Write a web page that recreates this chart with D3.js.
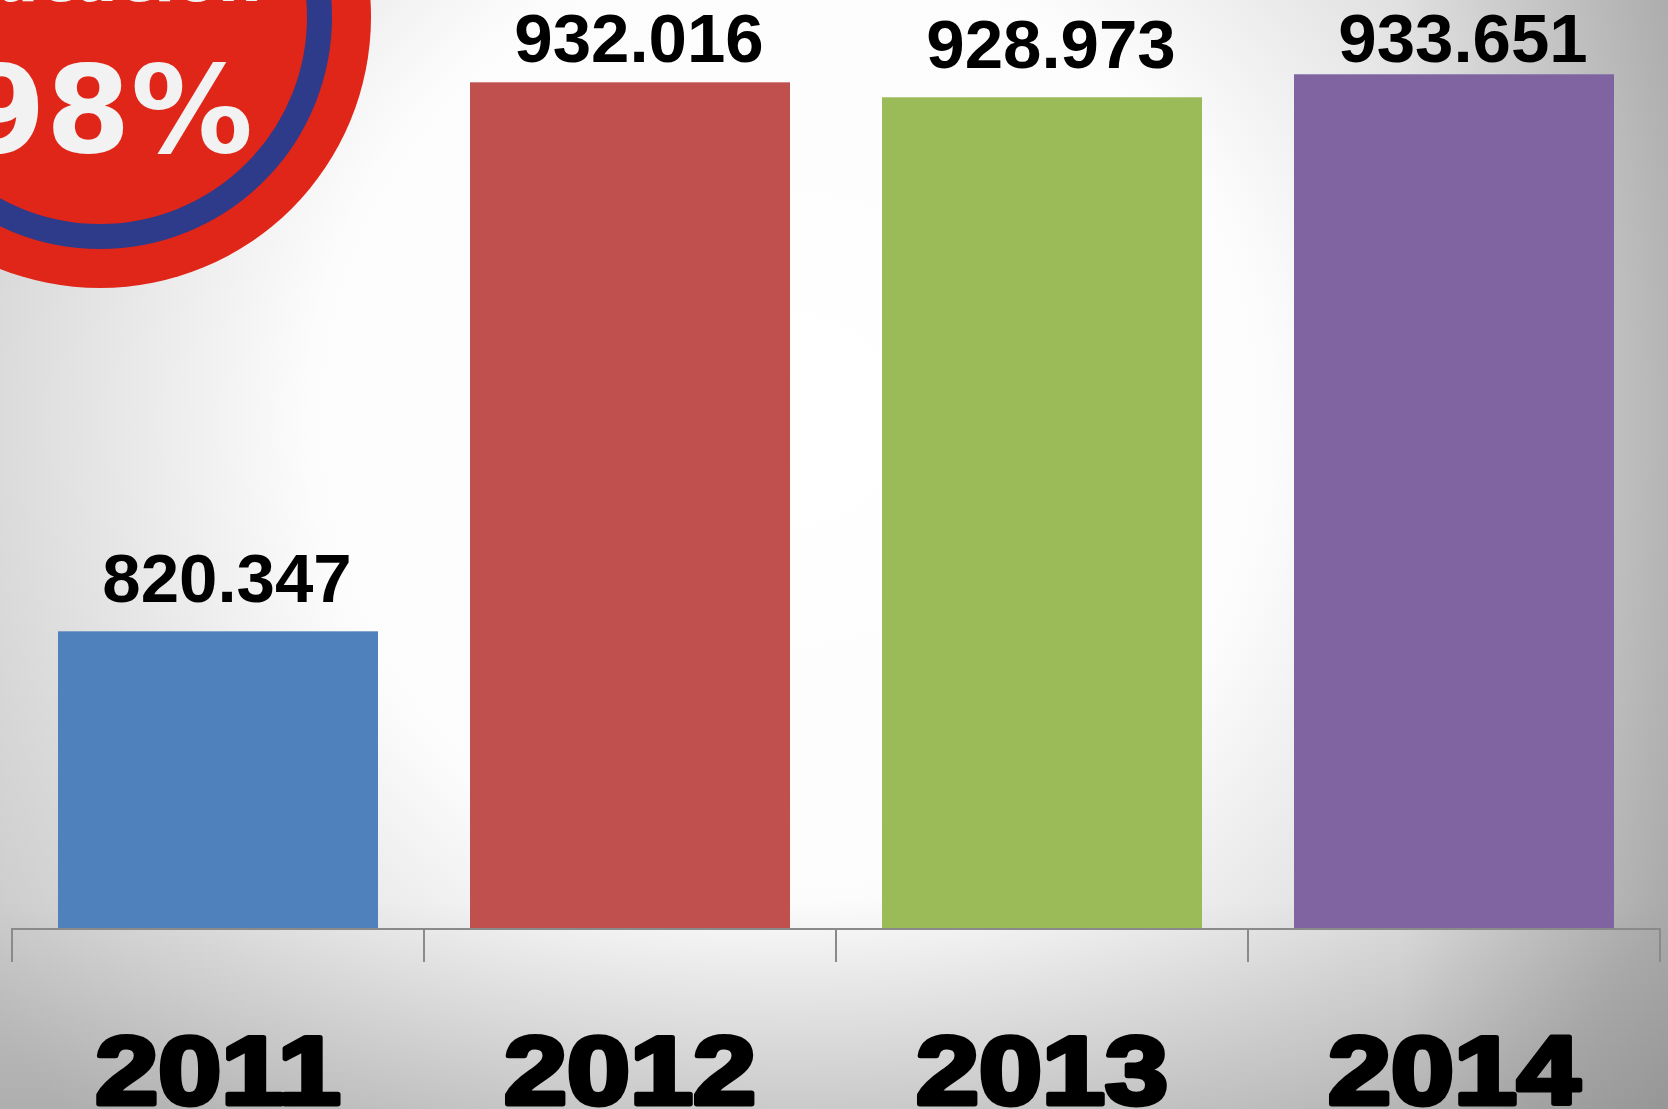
<!DOCTYPE html>
<html>
<head>
<meta charset="utf-8">
<script src="https://cdn.jsdelivr.net/npm/d3@7"></script>
<style>
  html, body { margin: 0; padding: 0; overflow: hidden; background: #fff; }
  svg { display: block; }
</style>
</head>
<body>
<script>
// ---- data ----
const years = ["2011", "2012", "2013", "2014"];
const values = [820.347, 932.016, 928.973, 933.651];
const valueLabels = ["820.347", "932.016", "928.973", "933.651"];
const barColors = ["#4f81bd", "#c0504d", "#9bbb59", "#8064a2"];
const yDomain = [760, 940];
const badgeText = "98%";
const badgeTopText = "Educación";

const W = 1668, H = 1109;
const svg = d3.select("body").append("svg").attr("width", W).attr("height", H);
const defs = svg.append("defs");

// background vignette
const rg = defs.append("radialGradient").attr("id", "bg")
  .attr("gradientUnits", "userSpaceOnUse")
  .attr("cx", 790).attr("cy", 420).attr("r", 1000);
[[0, "#ffffff"], [0.48, "#fcfcfc"], [0.78, "#dcdcdc"], [1, "#c6c6c6"]].forEach(s =>
  rg.append("stop").attr("offset", s[0]).attr("stop-color", s[1]));
const lb = defs.append("linearGradient").attr("id", "bot")
  .attr("gradientUnits", "userSpaceOnUse").attr("x1", 0).attr("y1", 900).attr("x2", 0).attr("y2", H);
lb.append("stop").attr("offset", 0).attr("stop-color", "#000").attr("stop-opacity", 0);
lb.append("stop").attr("offset", 1).attr("stop-color", "#000").attr("stop-opacity", 0.12);
const lr = defs.append("linearGradient").attr("id", "right")
  .attr("gradientUnits", "userSpaceOnUse").attr("x1", 1400).attr("y1", 0).attr("x2", W).attr("y2", 0);
lr.append("stop").attr("offset", 0).attr("stop-color", "#000").attr("stop-opacity", 0);
lr.append("stop").attr("offset", 1).attr("stop-color", "#000").attr("stop-opacity", 0.14);

svg.append("rect").attr("width", W).attr("height", H).attr("fill", "url(#bg)");
svg.append("rect").attr("width", W).attr("height", H).attr("fill", "url(#bot)");
svg.append("rect").attr("width", W).attr("height", H).attr("fill", "url(#right)");

// badge
const badge = svg.append("g");
badge.append("circle").attr("cx", 100).attr("cy", 17).attr("r", 271).attr("fill", "#e02619");
badge.append("circle").attr("cx", 100).attr("cy", 17).attr("r", 219.5)
  .attr("fill", "none").attr("stroke", "#2e3a8a").attr("stroke-width", 25);
badge.append("text").attr("x", 262).attr("y", 1).attr("text-anchor", "end")
  .attr("font-family", "DejaVu Sans").attr("font-weight", "bold").attr("font-size", 62)
  .attr("fill", "#f2f2f2").text(badgeTopText);
badge.append("text").attr("x", 253).attr("y", 152).attr("text-anchor", "end")
  .attr("font-family", "DejaVu Sans").attr("font-weight", "bold").attr("font-size", 122)
  .attr("fill", "#f2f2f2").text(badgeText);

// scales
const x = d3.scaleBand().domain(years).range([12, 1660]).paddingInner(0.2233).paddingOuter(0.2233 / 2);
const baseY = 928;
const y = d3.scaleLinear().domain(yDomain).range([baseY, baseY - 4.9163 * (yDomain[1] - yDomain[0])]);

// bars
svg.append("g").selectAll("rect").data(years).join("rect")
  .attr("x", d => x(d))
  .attr("y", (d, i) => y(values[i]))
  .attr("width", x.bandwidth())
  .attr("height", (d, i) => y(yDomain[0]) - y(values[i]))
  .attr("fill", (d, i) => barColors[i]);

// value labels
svg.append("g").selectAll("text").data(years).join("text")
  .attr("x", d => x(d) + x.bandwidth() / 2 + 9)
  .attr("y", (d, i) => Math.max(y(values[i]) - 29, 62))
  .attr("text-anchor", "middle")
  .attr("font-family", "Liberation Sans, Arial, sans-serif")
  .attr("font-weight", "bold").attr("font-size", 69).attr("fill", "#000")
  .text((d, i) => valueLabels[i]);

// axis
const axis = svg.append("g").attr("stroke", "#8a8a8a").attr("stroke-width", 2);
axis.append("line").attr("x1", x.range()[0]).attr("x2", x.range()[1])
  .attr("y1", baseY + 1).attr("y2", baseY + 1);
const half = x.step() * x.paddingInner() / 2;
const edges = years.map(d => x(d) - half).concat([x(years[years.length - 1]) + x.bandwidth() + half]);
axis.selectAll("line.t").data(edges).join("line").attr("class", "t")
  .attr("x1", d => d).attr("x2", d => d).attr("y1", baseY).attr("y2", baseY + 34);

// year labels
svg.append("g").selectAll("text").data(years).join("text")
  .attr("transform", d => `translate(${x(d) + x.bandwidth() / 2},1104) scale(1.18,1)`)
  .attr("text-anchor", "middle")
  .attr("font-family", "Liberation Sans, Arial, sans-serif")
  .attr("font-weight", "bold").attr("font-size", 96)
  .attr("fill", "#000").attr("stroke", "#000").attr("stroke-width", 5).attr("stroke-linejoin", "round")
  .text(d => d);
</script>
</body>
</html>
